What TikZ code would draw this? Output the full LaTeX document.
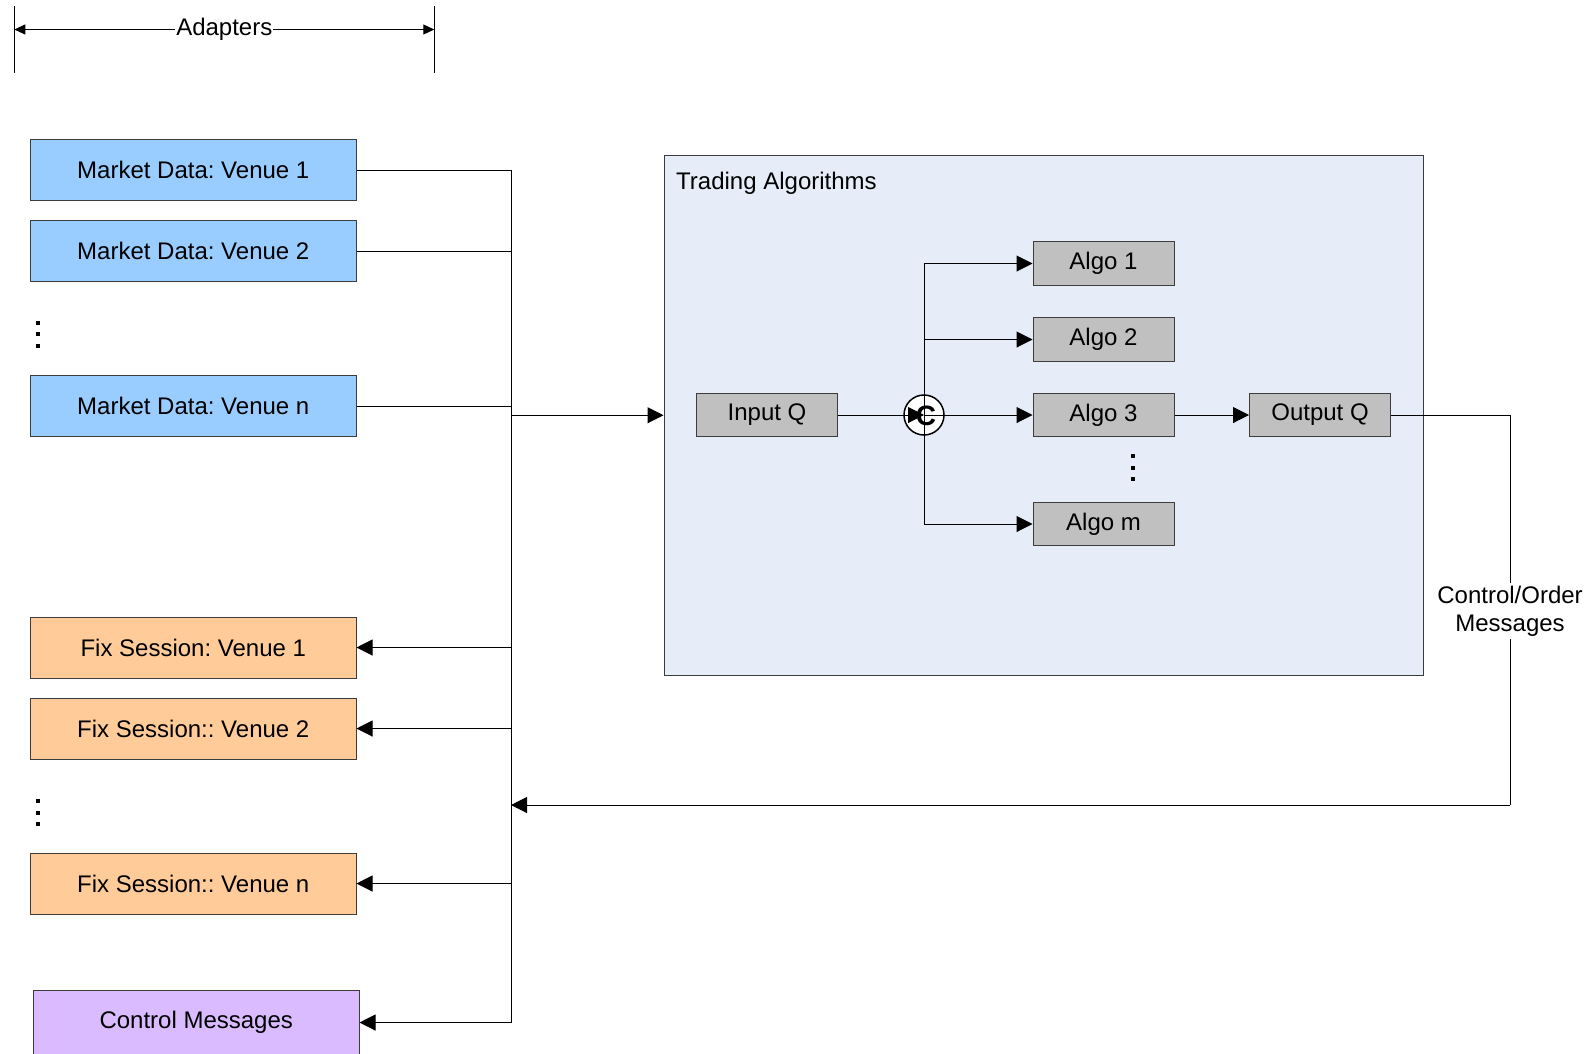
\documentclass[tikz,border=0pt]{standalone}
\usepackage{fontspec}
\setmainfont{Liberation Sans}
\usetikzlibrary{arrows.meta}
\definecolor{mdblue}{RGB}{153,204,255}
\definecolor{fixor}{RGB}{255,204,153}
\definecolor{ctlpur}{RGB}{218,187,255}
\definecolor{algogray}{RGB}{192,192,192}
\definecolor{contbg}{RGB}{230,237,248}
\definecolor{edge}{RGB}{60,60,60}
\begin{document}
\frenchspacing
\begin{tikzpicture}[x=1pt,y=-1pt,
  font=\fontsize{24}{28}\selectfont,
  adapter/.style={draw=edge, line width=1pt, minimum width=325.5pt, minimum height=61pt, inner sep=0pt},
  qbox/.style={draw=edge, fill=algogray, line width=1pt, minimum width=141pt, minimum height=43.5pt, inner sep=0pt},
  conn/.style={line width=1pt, draw=black},
  arr/.style={conn, -{Triangle[length=16pt,width=16pt]}},
  vdot/.style={fill=black, minimum size=4pt, inner sep=0pt}
]
\useasboundingbox (0,0) rectangle (1594,1053);
\begin{scope}
\clip (0,0) rectangle (1594,1053);
% Adapters dimension
\coordinate (ltop) at (14.3,6);
\coordinate (lbot) at (14.3,73);
\coordinate (rtop) at (434.3,6);
\coordinate (rbot) at (434.3,73);
\coordinate (la) at (14.3,29.5);
\coordinate (ra) at (434.3,29.5);
\draw[line width=1pt] (ltop) -- (lbot);
\draw[line width=1pt] (rtop) -- (rbot);
\draw[line width=1pt, {Triangle[length=11pt,width=10pt]}-{Triangle[length=11pt,width=10pt]}] (la) -- node[fill=white, inner sep=1pt] (adl) {Adapters} (ra);

% Adapter boxes
\node[adapter, fill=mdblue] (md1) at (193.25,170) {Market Data: Venue 1};
\node[adapter, fill=mdblue] (md2) at (193.25,251) {Market Data: Venue 2};
\node[adapter, fill=mdblue] (mdn) at (193.25,406) {Market Data: Venue n};
\node[adapter, fill=fixor] (fx1) at (193.25,647.5) {Fix Session: Venue 1};
\node[adapter, fill=fixor] (fx2) at (193.25,728.5) {Fix Session:: Venue 2};
\node[adapter, fill=fixor] (fxn) at (193.25,883.5) {Fix Session:: Venue n};
\node[adapter, fill=ctlpur, minimum height=64pt] (ctl) at (196.25,1022.5) {Control Messages};

% vertical dots
\node[vdot] (d1a) at (38.3,322.7) {};
\node[vdot] (d1b) at (38.3,334.3) {};
\node[vdot] (d1c) at (38.3,345.7) {};
\node[vdot] (d2a) at (38.3,801) {};
\node[vdot] (d2b) at (38.3,812.5) {};
\node[vdot] (d2c) at (38.3,824) {};

% Trading algorithms container
\node[draw=edge, fill=contbg, line width=1pt, minimum width=759pt, minimum height=519.5pt, inner sep=0pt] (cont) at (1043.5,415.25) {};
\node[anchor=west, inner sep=0pt] (title) at (676,183) {Trading Algorithms};

\node[qbox] (inq) at (767,415) {Input Q};
\node[qbox] (a1) at (1103.5,263.5) {Algo 1};
\node[qbox] (a2) at (1103.5,339.5) {Algo 2};
\node[qbox] (a3) at (1103.5,415) {Algo 3};
\node[qbox] (am) at (1103.5,524) {Algo m};
\node[qbox] (outq) at (1320,415) {Output Q};
\node[vdot] (d3a) at (1133,455.7) {};
\node[vdot] (d3b) at (1133,467.7) {};
\node[vdot] (d3c) at (1133,478.7) {};

% choice circle
\node[circle, draw=black, fill=white, line width=1.5pt, minimum size=40pt, inner sep=0pt] (cc) at (924,415) {};
\draw[conn] (cc.center |- a1.west) -- (cc.center |- am.west);
\draw[arr] (inq.east) -- (cc.center);
\draw[arr] (cc.center) -- (a3.west);
\draw[arr] (cc.center |- a1.west) -- (a1.west);
\draw[arr] (cc.center |- a2.west) -- (a2.west);
\draw[arr] (cc.center |- am.west) -- (am.west);
\node[inner sep=0pt, font=\fontsize{28}{28}\selectfont\bfseries] (cl) at (926,416) {C};
\draw[arr] (a3.east) -- (outq.west);

% bus
\coordinate (bus) at (511,0);
\draw[conn] (md1.east) -- (md1.east -| bus);
\draw[conn] (md2.east) -- (md2.east -| bus);
\draw[conn] (mdn.east) -- (mdn.east -| bus);
\draw[conn] (md1.east -| bus) -- (ctl.east -| bus);
\draw[arr] (bus |- cont.west) -- (cont.west);
\draw[arr] (fx1.east -| bus) -- (fx1.east);
\draw[arr] (fx2.east -| bus) -- (fx2.east);
\draw[arr] (fxn.east -| bus) -- (fxn.east);
\draw[arr] (ctl.east -| bus) -- (ctl.east);

% return path
\coordinate (rett) at (1510,415);
\coordinate (ret) at (1510,805);
\draw[conn] (outq.east) -- (rett) -- (ret);
\draw[arr] (ret) -- (ret -| bus);
\node[fill=white, align=center, inner sep=3pt] (lbl) at (1510,611) {Control/Order\\Messages};
\end{scope}
\end{tikzpicture}
\end{document}
